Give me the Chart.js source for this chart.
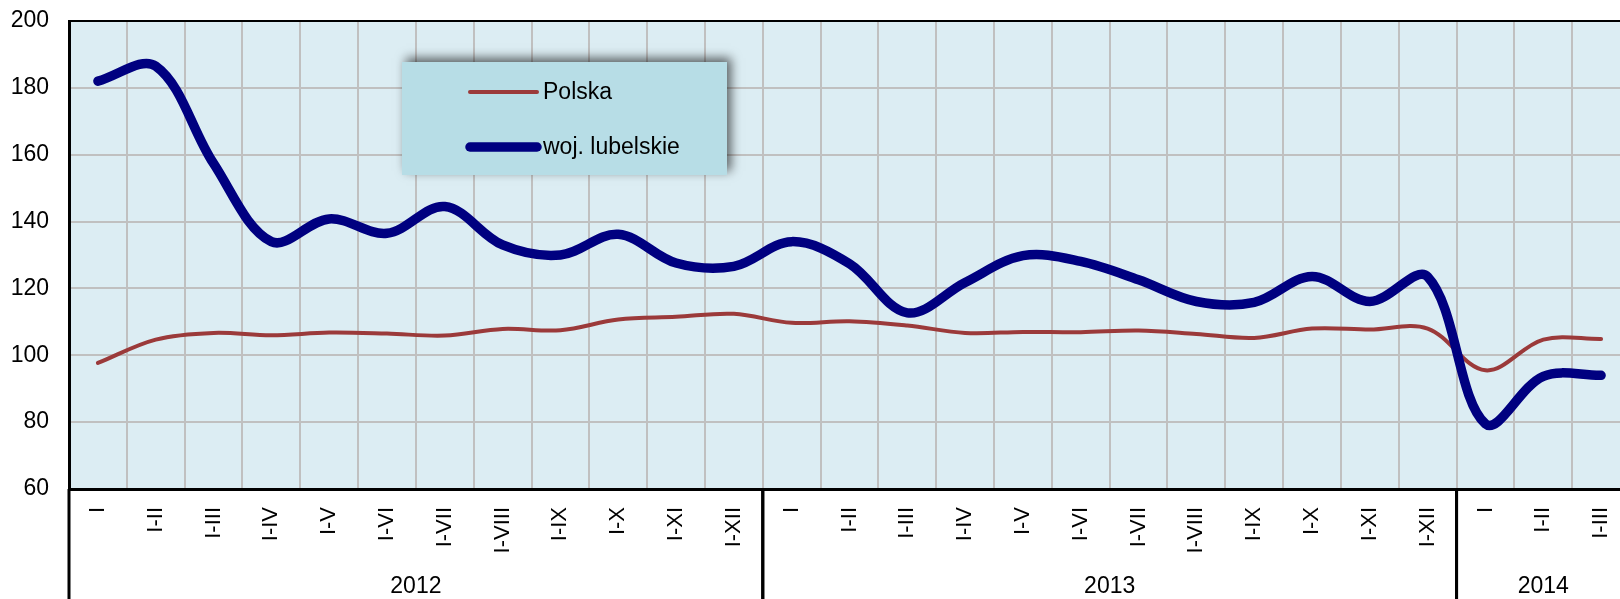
<!DOCTYPE html>
<html>
<head>
<meta charset="utf-8">
<script src="https://cdn.jsdelivr.net/npm/chart.js@4.4.1/dist/chart.umd.min.js"></script>
<style>
    html, body { margin: 0; padding: 0; overflow: hidden; background: #fff; }
    #wrap { width: 1630px; height: 599px; }
</style>
</head>
<body>
<div id="wrap"><canvas id="chart"></canvas></div>
<script>
// dane: dynamika (narastajaco), 2012 - 2014
const months = ['I', 'I-II', 'I-III', 'I-IV', 'I-V', 'I-VI', 'I-VII', 'I-VIII', 'I-IX', 'I-X', 'I-XI', 'I-XII',
    'I', 'I-II', 'I-III', 'I-IV', 'I-V', 'I-VI', 'I-VII', 'I-VIII', 'I-IX', 'I-X', 'I-XI', 'I-XII',
    'I', 'I-II', 'I-III'];
const years = ['2012', '2013', '2014'];
const year_counts = [12, 12, 3];
const polska = [97.7, 104.7, 106.7, 106.0, 106.8, 106.5, 105.9, 107.9, 107.5, 110.7, 111.5, 112.4,
    109.7, 110.2, 108.9, 106.7, 107.0, 106.9, 107.4, 106.4, 105.2, 108.0, 107.7, 108.0,
    95.5, 104.7, 104.9];
const lubelskie = [182.0, 186.5, 157.4, 134.0, 140.8, 136.5, 144.5, 133.0, 130.0, 136.2, 127.6, 126.6,
    134.0, 127.4, 112.7, 121.8, 129.8, 128.1, 122.6, 116.1, 115.8, 123.6, 116.1, 123.5,
    79.5, 93.7, 94.0];

const font_family = "'Liberation Sans', Arial, sans-serif";

const extras_plugin = {
    id: 'extras',
    beforeDraw(chart) {
        const {ctx, chartArea} = chart;
        ctx.save();
        ctx.fillStyle = '#dcedf3';
        ctx.fillRect(chartArea.left, chartArea.top, chartArea.right - chartArea.left, chartArea.bottom - chartArea.top);
        ctx.restore();
    },
    afterDraw(chart) {
        const {ctx, chartArea} = chart;
        const x = chart.scales.x;
        const h = chart.height;
        ctx.save();
        // gorna ramka
        ctx.strokeStyle = '#000';
        ctx.lineWidth = 2;
        ctx.beginPath();
        ctx.moveTo(chartArea.left, chartArea.top);
        ctx.lineTo(chartArea.right, chartArea.top);
        ctx.stroke();

        // lata + separatory
        ctx.lineWidth = 3;
        ctx.fillStyle = '#000';
        ctx.font = '23px ' + font_family;
        ctx.textAlign = 'center';
        ctx.textBaseline = 'middle';
        let start = 0;
        years.forEach((year, i) => {
            const end = start + year_counts[i] - 1;
            const x0 = x.getPixelForValue(start);
            const x1 = x.getPixelForValue(end);
            const half = (x.getPixelForValue(1) - x.getPixelForValue(0)) / 2;
            const sep = x1 + half;
            ctx.beginPath();
            ctx.moveTo(x0 - half, chartArea.bottom);
            ctx.lineTo(x0 - half, h);
            ctx.moveTo(sep, chartArea.bottom);
            ctx.lineTo(sep, h);
            ctx.stroke();
            ctx.fillText(year, (x0 + x1) / 2, 587);
            start = end + 1;
        });

        // legenda
        const bx = 402, by = 62, bw = 325, bh = 113;
        ctx.save();
        ctx.shadowColor = 'rgba(0,0,0,0.6)';
        ctx.shadowBlur = 10;
        ctx.shadowOffsetX = 4;
        ctx.shadowOffsetY = -4;
        ctx.fillStyle = '#b7dde6';
        ctx.fillRect(bx, by, bw, bh);
        ctx.restore();
        const rows = [92, 147];
        ctx.lineCap = 'round';
        ctx.textAlign = 'left';
        ctx.font = '23px ' + font_family;
        chart.data.datasets.forEach((ds, i) => {
            ctx.strokeStyle = ds.borderColor;
            ctx.lineWidth = ds.borderWidth;
            ctx.beginPath();
            ctx.moveTo(470, rows[i]);
            ctx.lineTo(537, rows[i]);
            ctx.stroke();
            ctx.fillStyle = '#000';
            ctx.fillText(ds.label, 543, rows[i] + 1);
        });
        ctx.restore();
    }
};

new Chart(document.getElementById('chart'), {
    type: 'line',
    data: {
        labels: months,
        datasets: [{
            label: 'Polska',
            data: polska,
            borderColor: '#9b3a3a',
            borderWidth: 4,
            order: 2
        }, {
            label: 'woj. lubelskie',
            data: lubelskie,
            borderColor: '#000080',
            borderWidth: 9.5,
            order: 1
        }]
    },
    options: {
        responsive: true,
        maintainAspectRatio: false,
        animation: false,
        layout: {padding: 0},
        elements: {
            point: {radius: 0, hoverRadius: 0},
            line: {tension: 0.35, borderCapStyle: 'round', borderJoinStyle: 'round', fill: false}
        },
        plugins: {legend: {display: false}, tooltip: {enabled: false}},
        scales: {
            x: {
                offset: true,
                grid: {offset: true, color: '#c0c0c0', lineWidth: 2, drawTicks: false},
                border: {color: '#000', width: 3},
                ticks: {
                    autoSkip: false, maxRotation: 90, minRotation: 90, padding: 18,
                    color: '#000', font: {family: font_family, size: 22}
                },
                afterFit(scale) {
                    scale.height = 110;
                    scale.paddingLeft = 0;
                    scale.paddingRight = 0;
                }
            },
            y: {
                min: 60, max: 200,
                grid: {color: '#c0c0c0', lineWidth: 2, drawTicks: false},
                border: {color: '#000', width: 3},
                ticks: {stepSize: 20, padding: 20, color: '#000', font: {family: font_family, size: 23}},
                afterFit(scale) {
                    scale.width = 69;
                    scale.paddingTop = 21;
                    scale.paddingBottom = 0;
                }
            }
        }
    },
    plugins: [extras_plugin]
});
</script>
</body>
</html>
